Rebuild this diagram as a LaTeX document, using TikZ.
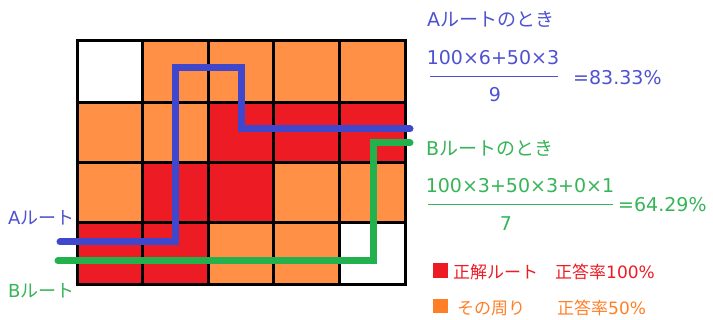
\documentclass[tikz,border=0pt]{standalone}
\usepackage{fontspec}
\setmainfont{DejaVu Sans}
\newfontfamily\jp{Noto Sans CJK JP}
\definecolor{cred}{HTML}{ED1C24}
\definecolor{corange}{HTML}{FF9045}
\definecolor{lorange}{HTML}{FF7F27}
\definecolor{lblue}{HTML}{3F48CC}
\definecolor{tblue}{HTML}{4F52D0}
\definecolor{lgreen}{HTML}{22B14C}
\definecolor{tgreen}{HTML}{36B458}
\tikzset{
  big/.style={inner sep=0pt, anchor=base west, font=\fontsize{19}{22}\selectfont},
  bigc/.style={inner sep=0pt, anchor=base, font=\fontsize{19}{22}\selectfont},
  small/.style={inner sep=0pt, anchor=base west, font=\fontsize{17}{20}\selectfont},
  route/.style={line width=7pt, line cap=round, line join=miter},
  fracline/.style={line width=1pt},
}
\begin{document}
\begin{tikzpicture}[x=1pt,y=-1pt]
\useasboundingbox (0,0) rectangle (713,320);
% grid columns and rows
\def\xs{{77,142,208,273,339,405}}
\def\ys{{41,103,163,223,285}}
% cells: row, col, color
\foreach \r/\c/\col in {0/0/white,0/1/corange,0/2/corange,0/3/corange,0/4/corange,
  1/0/corange,1/1/corange,1/2/cred,1/3/cred,1/4/cred,
  2/0/corange,2/1/cred,2/2/cred,2/3/corange,2/4/corange,
  3/0/cred,3/1/cred,3/2/corange,3/3/corange,3/4/white}{
  \pgfmathsetmacro{\xa}{\xs[\c]}
  \pgfmathsetmacro{\xb}{\xs[\c+1]}
  \pgfmathsetmacro{\ya}{\ys[\r]}
  \pgfmathsetmacro{\yb}{\ys[\r+1]}
  \fill[\col] (\xa,\ya) rectangle (\xb,\yb);
}
\foreach \x in {77,142,208,273,339,405}{\draw[line width=3pt] (\x,39.5) -- (\x,286.5);}
\foreach \y in {41,103,163,223,285}{\draw[line width=3pt] (75.5,\y) -- (406.5,\y);}
% routes
\coordinate (a0) at (60,242);
\coordinate (a1) at (175,242);
\coordinate (a2) at (175,68);
\coordinate (a3) at (241,68);
\coordinate (a4) at (241,129);
\coordinate (a5) at (410,129);
\draw[route, lblue] (a0) -- (a1) -- (a2) -- (a3) -- (a4) -- (a5);
\coordinate (b0) at (58,261);
\coordinate (b1) at (373,261);
\coordinate (b2) at (373,143);
\coordinate (b3) at (410,143);
\draw[route, lgreen] (b0) -- (b1) -- (b2) -- (b3);
% left labels
\node[big, tblue, font=\fontsize{18}{21}\selectfont] (la) at (8,225) {A{\jp ルート}};
\node[big, tgreen, font=\fontsize{18}{21}\selectfont] (lb) at (8,298) {B{\jp ルート}};
% A formula
\node[big, tblue] (ta) at (427,27) {A{\jp ルートのとき}};
\node[bigc, tblue] (na) at (493,65) {100×6+50×3};
\coordinate (fa0) at (430,77);
\coordinate (fa1) at (558,77);
\draw[fracline, tblue] (fa0) -- (fa1);
\node[bigc, tblue] (da) at (495,102) {9};
\node[big, tblue] (ra) at (573,85) {=83.33\%};
% B formula
\node[big, tgreen] (tb) at (426,156) {B{\jp ルートのとき}};
\node[bigc, tgreen] (nb) at (520,193) {100×3+50×3+0×1};
\coordinate (fb0) at (428,205);
\coordinate (fb1) at (613,205);
\draw[fracline, tgreen] (fb0) -- (fb1);
\node[bigc, tgreen] (db) at (506,231) {7};
\node[big, tgreen] (rb) at (618,212) {=64.29\%};
% legend
\fill[cred] (433,263) rectangle (448,278);
\node[small, cred] (lr) at (453,279) {{\jp 正解ルート}};
\node[small, cred] (lr2) at (555,279) {{\jp 正答率}100\%};
\fill[lorange] (433,299) rectangle (448,313);
\node[small, lorange] (lo) at (457,315) {{\jp その周り}};
\node[small, lorange] (lo2) at (557,315) {{\jp 正答率}50\%};
\end{tikzpicture}
\end{document}
